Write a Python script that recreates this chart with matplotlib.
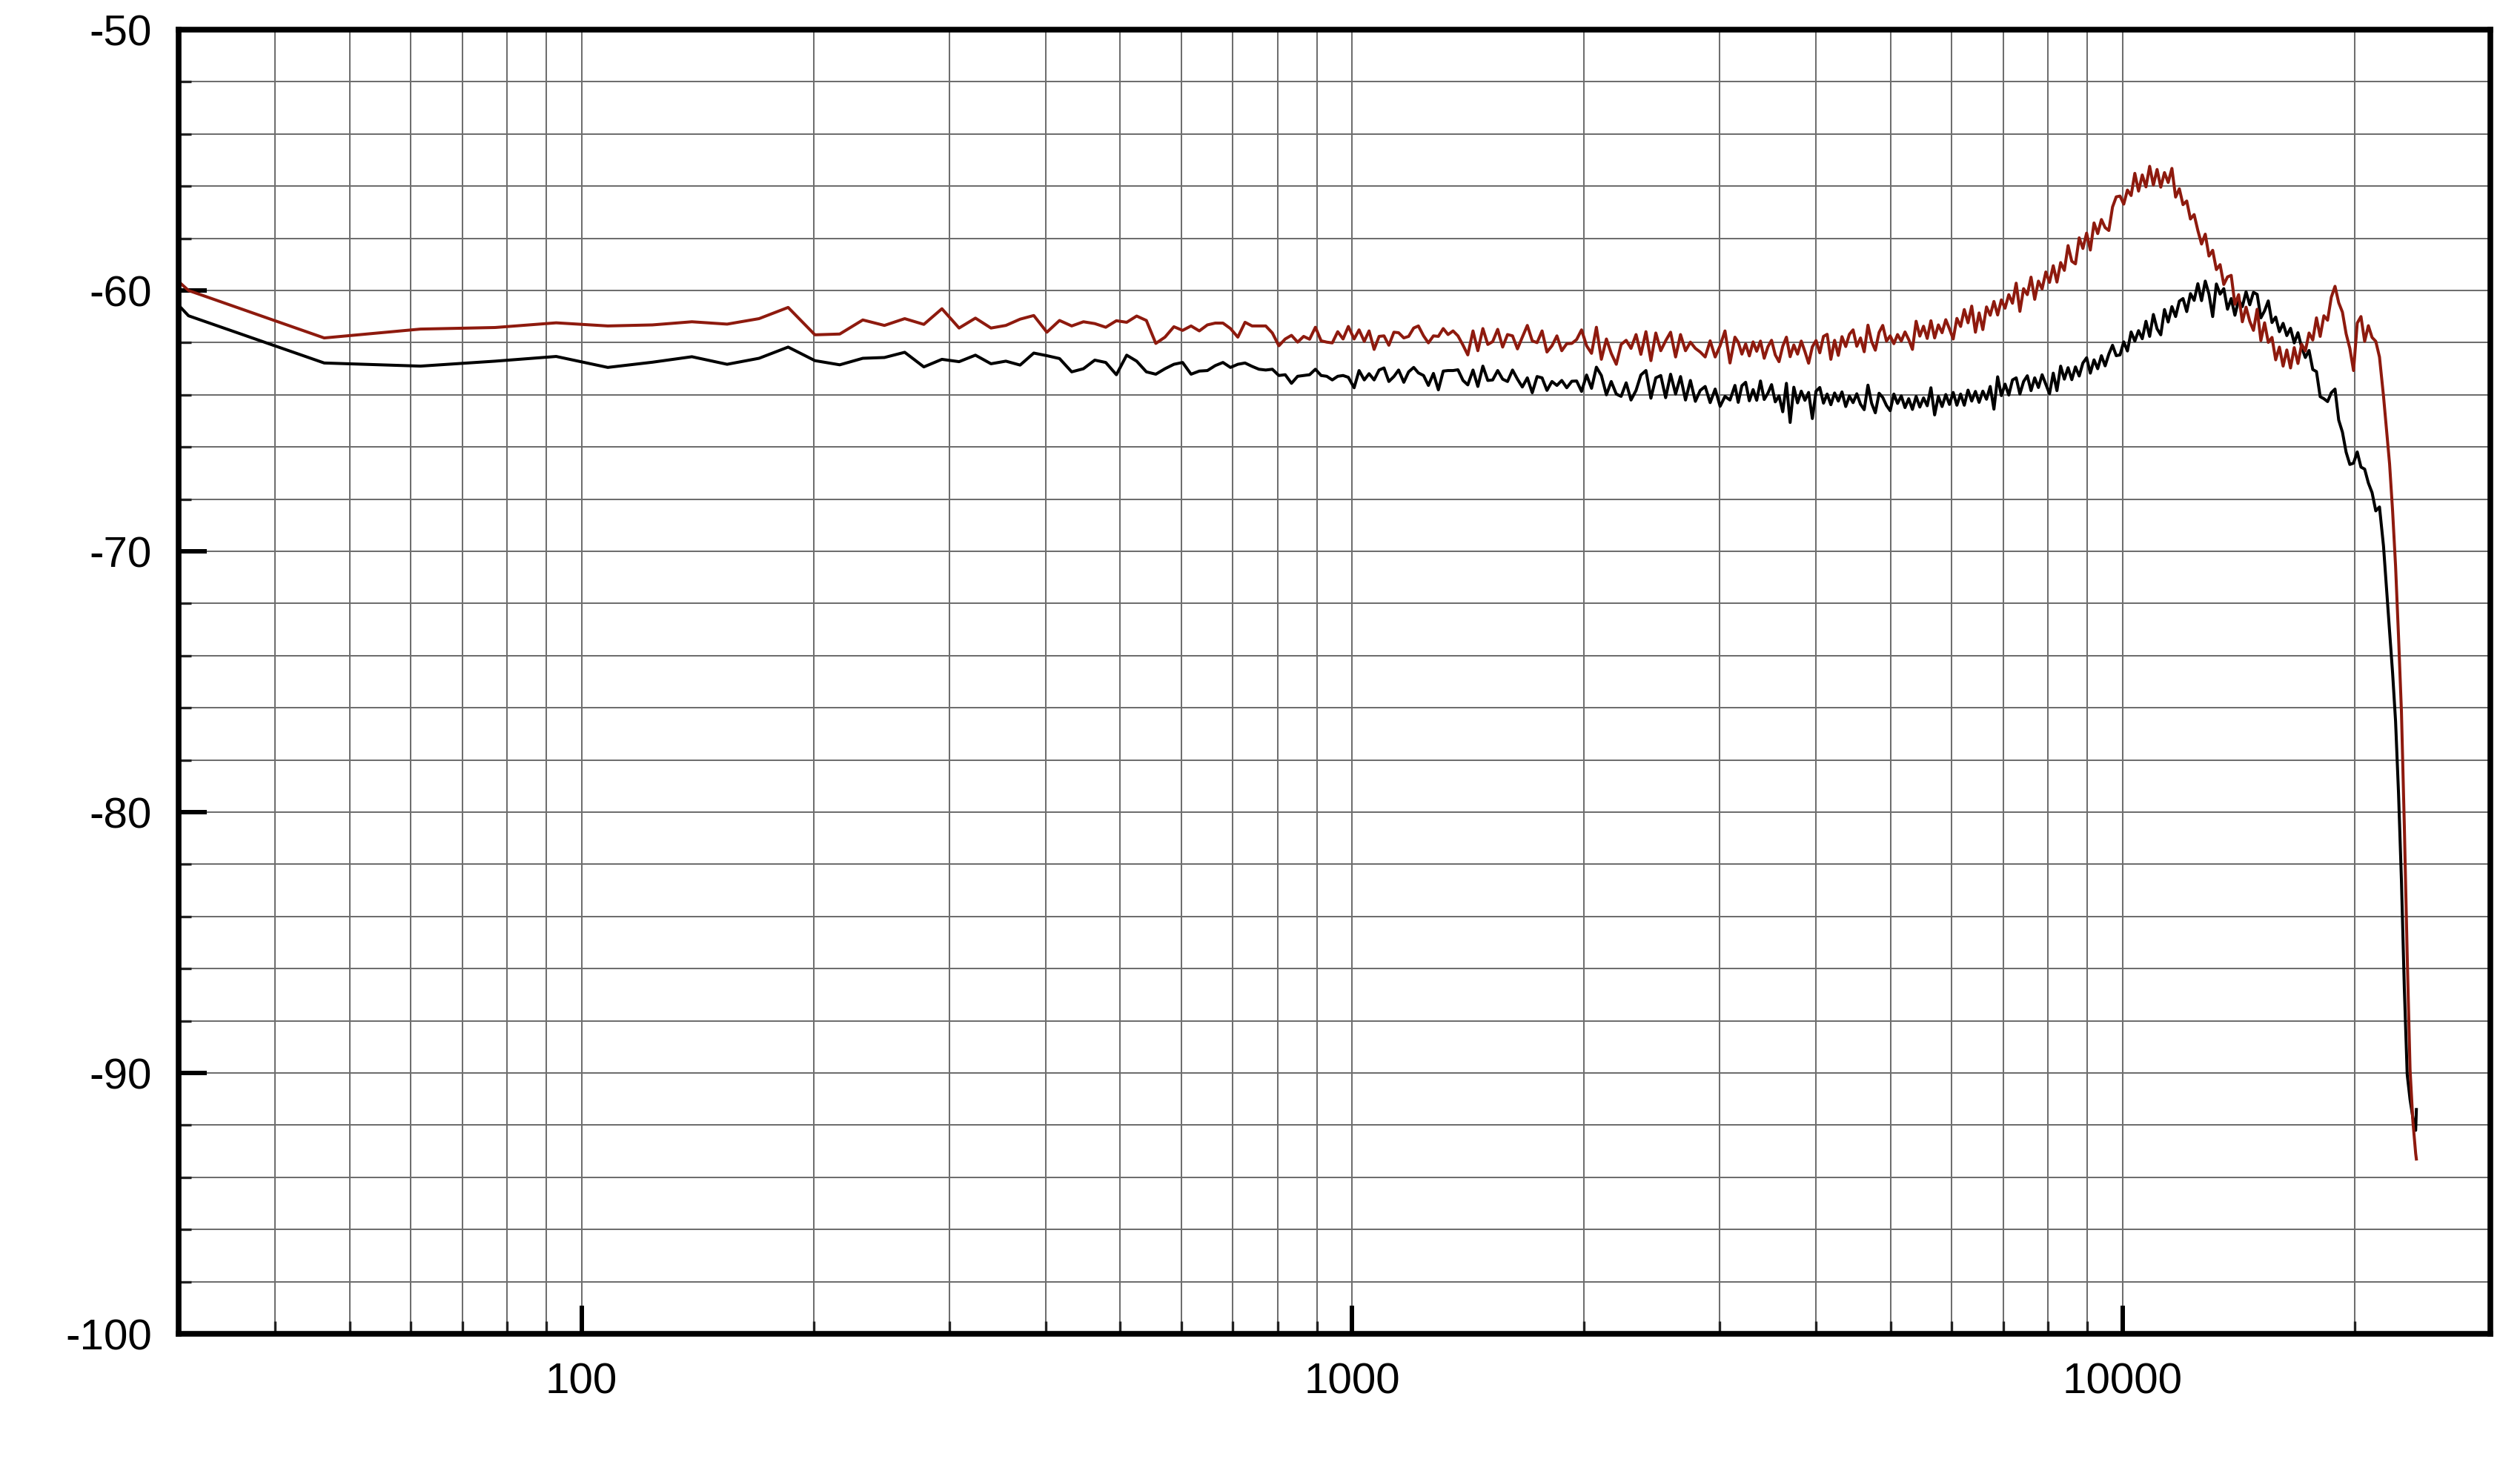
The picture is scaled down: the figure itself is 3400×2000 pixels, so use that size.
import numpy as np
import matplotlib
matplotlib.use("Agg")
import matplotlib.pyplot as plt
from matplotlib.ticker import FixedLocator, FixedFormatter, NullFormatter

plt.rcParams['font.family'] = ['Liberation Sans', 'DejaVu Sans']
plt.rcParams['axes.unicode_minus'] = False

# ---------------- data ----------------
# Frequencies (Hz) of the plotted points, in segments
freq_low = [15.45, 30.9, 46.35, 61.8, 77.25, 92.7, 108.15, 123.6,
            139.05, 154.5, 169.95, 185.4, 200.85, 216.3, 231.75, 247.2,
            262.65, 278.1, 293.55, 309.0, 324.45, 339.9, 355.35, 370.8,
            386.25, 401.7, 417.15, 432.6, 448.05, 463.5, 478.95, 494.4,
            509.85, 525.3, 540.75, 556.2, 571.65, 587.1, 602.55, 618.0,
            633.45, 648.9, 664.35, 679.8, 695.25, 710.7, 726.15, 741.6,
            757.05, 772.5, 787.95, 803.4, 818.85, 834.3, 849.75, 865.2,
            880.65, 896.1, 911.55, 927.0, 942.45, 957.9, 973.35, 988.8]
red_low = [-52.0, -60.00, -61.82, -61.48, -61.42, -61.24, -61.36, -61.32,
           -61.20, -61.29, -61.08, -60.65, -61.70, -61.67, -61.13, -61.34,
           -61.08, -61.30, -60.70, -61.44, -61.06, -61.44, -61.34, -61.10,
           -60.96, -61.60, -61.15, -61.36, -61.20, -61.27, -61.41, -61.16,
           -61.22, -60.98, -61.15, -62.03, -61.79, -61.39, -61.53, -61.36,
           -61.55, -61.32, -61.25, -61.25, -61.46, -61.79, -61.22, -61.36,
           -61.36, -61.36, -61.63, -62.12, -61.86, -61.72, -61.98, -61.76,
           -61.87, -61.41, -61.93, -61.98, -62.01, -61.58, -61.86, -61.38]
black_low = [-51.5, -60.97, -62.78, -62.90, -62.71, -62.53, -62.95, -62.75,
             -62.54, -62.83, -62.60, -62.17, -62.69, -62.85, -62.60, -62.57,
             -62.37, -62.93, -62.64, -62.73, -62.48, -62.81, -62.71, -62.86,
             -62.40, -62.50, -62.61, -63.12, -63.00, -62.67, -62.76, -63.23,
             -62.48, -62.71, -63.12, -63.21, -63.00, -62.83, -62.76, -63.21,
             -63.09, -63.07, -62.88, -62.76, -62.95, -62.83, -62.78, -62.91,
             -63.02, -63.05, -63.02, -63.26, -63.23, -63.56, -63.29, -63.26,
             -63.23, -63.02, -63.26, -63.29, -63.43, -63.29, -63.26, -63.33]

freq_mid = [1006, 1021, 1037, 1052, 1068, 1084, 1100, 1116, 1133, 1149,
            1167, 1184, 1202, 1219, 1238, 1256, 1275, 1294, 1313, 1332,
            1352, 1372, 1393, 1413, 1435, 1456, 1478, 1500, 1522, 1545,
            1568, 1591, 1615, 1639, 1663, 1688, 1713, 1738, 1764, 1790,
            1817, 1844, 1871, 1899, 1928, 1956, 1985, 2015, 2045, 2075,
            2106, 2138, 2169, 2202, 2234, 2268, 2301, 2336, 2370, 2406,
            2442, 2478, 2515, 2552, 2590, 2629, 2668, 2708, 2748, 2789,
            2830, 2872, 2915, 2959, 3003, 3047, 3093, 3139]
red_mid = [-61.86, -61.51, -61.95, -61.55, -62.26, -61.76, -61.74, -62.10, -61.60, -61.62,
           -61.82, -61.76, -61.44, -61.36, -61.74, -62.01, -61.74, -61.76, -61.46, -61.69,
           -61.55, -61.74, -62.10, -62.47, -61.55, -62.31, -61.46, -62.07, -61.96, -61.49,
           -62.17, -61.69, -61.74, -62.24, -61.79, -61.34, -61.93, -62.00, -61.55, -62.36,
           -62.12, -61.74, -62.31, -62.04, -62.03, -61.88, -61.51, -62.12, -62.41, -61.41,
           -62.64, -61.86, -62.41, -62.83, -62.07, -61.91, -62.22, -61.69, -62.45, -61.58,
           -62.69, -61.63, -62.31, -61.93, -61.60, -62.55, -61.69, -62.31, -61.98, -62.22,
           -62.36, -62.55, -61.93, -62.55, -62.12, -61.55, -62.78, -61.79]
black_mid = [-63.73, -63.07, -63.43, -63.19, -63.43, -63.05, -62.97, -63.49, -63.30, -63.05,
             -63.52, -63.12, -62.95, -63.16, -63.26, -63.64, -63.18, -63.81, -63.09, -63.07,
             -63.07, -63.04, -63.45, -63.62, -63.05, -63.68, -62.90, -63.45, -63.43, -63.07,
             -63.40, -63.49, -63.05, -63.40, -63.70, -63.35, -63.92, -63.30, -63.35, -63.83,
             -63.49, -63.64, -63.45, -63.73, -63.48, -63.47, -63.87, -63.24, -63.75, -62.94,
             -63.26, -64.00, -63.49, -63.97, -64.06, -63.54, -64.20, -63.83, -63.24, -63.07,
             -64.13, -63.35, -63.26, -64.11, -63.21, -63.97, -63.30, -64.20, -63.45, -64.25,
             -63.83, -63.68, -64.30, -63.78, -64.44, -64.06, -64.20, -63.64]

freq_high = [3170, 3205, 3241, 3277, 3314, 3350, 3388, 3426, 3464, 3502,
             3541, 3581, 3621, 3661, 3702, 3743, 3785, 3827, 3869, 3912,
             3956, 4000, 4045, 4090, 4135, 4181, 4228, 4275, 4322, 4371,
             4419, 4468, 4518, 4568, 4619, 4671, 4723, 4775, 4829, 4882,
             4937, 4992, 5047, 5103, 5160, 5218, 5276, 5335, 5394, 5454,
             5515, 5576, 5638, 5701, 5765, 5829, 5894, 5959, 6026, 6093,
             6161, 6229, 6299, 6369, 6440, 6511, 6584, 6657, 6731, 6806,
             6882, 6959, 7036, 7115, 7194, 7274, 7355, 7437, 7520, 7604,
             7688, 7774, 7860, 7948, 8036, 8126, 8216, 8308, 8400, 8494,
             8589, 8684, 8781, 8879, 8978, 9078, 9179, 9281, 9384, 9489,
             9594, 9701, 9809]
red_high = [-61.98, -62.44, -62.05, -62.51, -61.97, -62.33, -61.94, -62.60, -62.16, -61.91,
            -62.47, -62.73, -62.14, -61.79, -62.54, -62.09, -62.44, -61.94, -62.34, -62.79,
            -62.16, -61.92, -62.39, -61.76, -61.68, -62.64, -61.91, -62.49, -61.77, -62.15,
            -61.68, -61.51, -62.14, -61.82, -62.35, -61.33, -61.96, -62.29, -61.61, -61.34,
            -61.94, -61.74, -62.04, -61.69, -61.94, -61.59, -61.88, -62.26, -61.18, -61.75,
            -61.37, -61.84, -61.16, -61.82, -61.32, -61.62, -61.12, -61.47, -61.86, -61.07,
            -61.38, -60.73, -61.24, -60.60, -61.60, -60.86, -61.50, -60.63, -60.95, -60.42,
            -60.94, -60.36, -60.68, -60.16, -60.49, -59.72, -60.80, -59.93, -60.16, -59.49,
            -60.34, -59.64, -59.94, -59.29, -59.69, -59.05, -59.68, -58.93, -59.23, -58.28,
            -58.88, -58.98, -57.98, -58.39, -57.80, -58.45, -57.41, -57.82, -57.28, -57.59,
            -57.70, -56.80, -56.41]
black_high = [-64.29, -63.65, -63.52, -64.23, -63.80, -64.21, -63.47, -64.18, -63.94, -63.61,
              -64.27, -64.04, -64.65, -63.56, -65.06, -63.71, -64.31, -63.86, -64.21, -63.91,
              -64.91, -63.86, -63.72, -64.32, -63.97, -64.38, -63.93, -64.24, -63.89, -64.45,
              -64.05, -64.30, -63.96, -64.36, -64.57, -63.63, -64.33, -64.69, -63.94, -64.10,
              -64.41, -64.61, -63.97, -64.33, -64.04, -64.49, -64.15, -64.56, -64.06, -64.47,
              -64.12, -64.42, -63.73, -64.77, -64.06, -64.45, -63.99, -64.37, -63.91, -64.40,
              -63.97, -64.40, -63.82, -64.24, -63.87, -64.29, -63.86, -64.17, -63.68, -64.55,
              -63.31, -64.03, -63.59, -64.01, -63.43, -63.35, -63.97, -63.49, -63.27, -63.84,
              -63.35, -63.72, -63.23, -63.60, -63.96, -63.17, -63.84, -62.90, -63.40, -62.96,
              -63.42, -62.93, -63.28, -62.78, -62.58, -63.17, -62.66, -63.00, -62.50, -62.89,
              -62.44, -62.10, -62.50]

freq_top = [9920, 10031, 10142, 10255, 10369, 10485, 10602, 10720, 10839, 10960,
            11082, 11205, 11330, 11456, 11584, 11713, 11844, 11975, 12109, 12244,
            12380, 12518, 12657, 12798, 12941, 13085, 13231, 13378, 13527, 13678,
            13830, 13984, 14140, 14298, 14457, 14618, 14781, 14945, 15112, 15280,
            15450, 15622, 15796, 15972, 16150, 16330, 16512, 16696, 16882, 17070,
            17260, 17452, 17647, 17843, 18042, 18243, 18446, 18651, 18859, 19069,
            19282, 19496, 19714, 19933, 20155, 20380, 20607, 20836, 21068, 21303,
            21540]
red_top = [-56.38, -56.69, -56.15, -56.36, -55.51, -56.19, -55.57, -56.03, -55.24, -55.96,
           -55.36, -56.04, -55.48, -55.86, -55.32, -56.42, -56.10, -56.71, -56.57, -57.26,
           -57.09, -57.70, -58.22, -57.84, -58.68, -58.46, -59.20, -59.01, -59.77, -59.48,
           -59.42, -60.53, -60.16, -61.20, -60.64, -61.18, -61.53, -60.72, -61.92, -61.24,
           -61.99, -61.80, -62.66, -62.17, -62.90, -62.28, -62.97, -62.19, -62.80, -62.06,
           -62.32, -61.63, -61.90, -61.05, -61.76, -60.97, -61.14, -60.26, -59.84, -60.47,
           -60.83, -61.66, -62.22, -63.07, -61.25, -61.00, -61.95, -61.35, -61.80, -61.95,
           -62.55]
black_top = [-62.47, -61.97, -62.32, -61.59, -61.94, -61.54, -61.85, -61.18, -61.76, -60.92,
             -61.47, -61.70, -60.73, -61.21, -60.62, -61.00, -60.41, -60.31, -60.81, -60.12,
             -60.38, -59.74, -60.39, -59.64, -60.14, -61.00, -59.75, -60.14, -59.93, -60.72,
             -60.31, -60.95, -60.36, -60.62, -60.05, -60.55, -60.07, -60.15, -61.05, -60.78,
             -60.40, -61.23, -61.02, -61.58, -61.26, -61.73, -61.45, -62.01, -61.62, -62.18,
             -62.57, -62.30, -63.03, -63.11, -64.07, -64.15, -64.26, -63.92, -63.78, -64.97,
             -65.43, -66.20, -66.67, -66.62, -66.19, -66.77, -66.85, -67.38, -67.75, -68.45,
             -68.30]

freq_tail = [21800, 22000, 22200, 22400, 22600, 22800, 23000, 23200, 23400,
             23600, 23800, 24000, 24050]
red_tail = [-64.05, -65.37, -66.65, -68.45, -70.56, -73.25, -76.14, -80.53, -85.49,
            -89.86, -91.85, -93.09, -93.30]
black_tail = [-69.80, -71.46, -73.07, -74.66, -76.51, -79.26, -82.62, -86.76, -90.06,
              -91.02, -91.72, -92.20, -91.40]

# tick values / labels
x_major = [100, 1000, 10000]
x_labels = ['100', '1000', '10000']
x_minor = [40, 50, 60, 70, 80, 90, 200, 300, 400, 500, 600, 700, 800, 900,
           2000, 3000, 4000, 5000, 6000, 7000, 8000, 9000, 20000]
y_major = [-100, -90, -80, -70, -60, -50]
y_minor = [-98, -96, -94, -92, -88, -86, -84, -82, -78, -76, -74, -72,
           -68, -66, -64, -62, -58, -56, -54, -52]

# ---------------- assemble ----------------
segs = [(freq_low, red_low, black_low), (freq_mid, red_mid, black_mid),
        (freq_high, red_high, black_high), (freq_top, red_top, black_top),
        (freq_tail, red_tail, black_tail)]
for i, (f, r, b) in enumerate(segs):
    if not (len(f) == len(r) == len(b)):
        raise ValueError(f"segment {i}: {len(f)} {len(r)} {len(b)}")
freq = np.concatenate([s[0] for s in segs]).astype(float)
red = np.concatenate([s[1] for s in segs]).astype(float)
black = np.concatenate([s[2] for s in segs]).astype(float)

# ---------------- figure ----------------
W, H = 3400, 2000
fig = plt.figure(figsize=(W / 100, H / 100), dpi=100)
fig.patch.set_facecolor('white')
ax = fig.add_axes([241 / W, 200 / H, (3360 - 241) / W, 1760 / H])
ax.set_xscale('log')
ax.set_xlim(30, 30000)
ax.set_ylim(-100, -50)

ax.xaxis.set_major_locator(FixedLocator(x_major))
ax.xaxis.set_major_formatter(FixedFormatter(x_labels))
ax.xaxis.set_minor_locator(FixedLocator(x_minor))
ax.xaxis.set_minor_formatter(NullFormatter())
ax.yaxis.set_major_locator(FixedLocator(y_major))
ax.yaxis.set_major_formatter(FixedFormatter([str(v) for v in y_major]))
ax.yaxis.set_minor_locator(FixedLocator(y_minor))
ax.yaxis.set_minor_formatter(NullFormatter())

grid_color = '#6e6e6e'
ax.set_axisbelow(True)
ax.grid(which='both', color=grid_color, linewidth=1.45)

ax.plot(freq, black, color='black', linewidth=2.9, solid_joinstyle='round', zorder=3)
ax.plot(freq, red, color='#8e1a0e', linewidth=2.9, solid_joinstyle='round', zorder=4)

for s in ax.spines.values():
    s.set_linewidth(5.5)
    s.set_color('black')
    s.set_zorder(6)

ax.tick_params(which='major', direction='in', length=27.5, width=4.3,
               color='black', labelsize=42, top=False, right=False)
ax.tick_params(which='minor', direction='in', length=12.5, width=2.4,
               color='#222222', top=False, right=False)
ax.tick_params(axis='y', which='major', pad=26)
ax.tick_params(axis='x', which='major', pad=28)

fig.savefig('out.png', dpi=100, facecolor='white')
